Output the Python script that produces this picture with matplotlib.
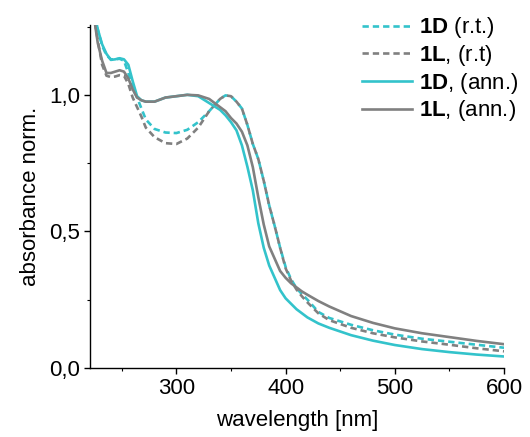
import matplotlib
matplotlib.use("Agg")
import matplotlib.pyplot as plt
from matplotlib.ticker import FixedLocator, FixedFormatter, MultipleLocator

plt.rcParams["font.family"] = ["Liberation Sans", "DejaVu Sans"]
plt.rcParams["mathtext.fontset"] = "custom"
plt.rcParams["mathtext.rm"] = "Liberation Sans"
plt.rcParams["mathtext.bf"] = "Liberation Sans:bold"

# wavelength grid [nm]
wavelength = [224, 228, 232, 236, 240, 244, 248, 252, 256, 260, 264, 268, 272, 280,
              290, 300, 310, 320, 330, 340, 345, 350, 355, 360, 365, 370, 375, 380,
              385, 390, 395, 400, 405, 410, 415, 420, 430, 440, 460, 480, 500, 525,
              550, 575, 600]

d_rt = [1.32, 1.24, 1.18, 1.145, 1.13, 1.13, 1.132, 1.125, 1.08, 1.025, 0.99, 0.95, 0.91, 0.875,
        0.862, 0.86, 0.872, 0.90, 0.94, 0.985, 0.998, 0.995, 0.975, 0.95, 0.89, 0.82, 0.765, 0.685,
        0.595, 0.52, 0.44, 0.37, 0.325, 0.292, 0.27, 0.25, 0.205, 0.183, 0.158, 0.138, 0.122, 0.107,
        0.096, 0.085, 0.074]

l_rt = [1.30, 1.20, 1.11, 1.07, 1.065, 1.067, 1.072, 1.07, 1.04, 0.99, 0.955, 0.92, 0.88, 0.845,
        0.823, 0.82, 0.84, 0.88, 0.94, 0.985, 0.998, 0.995, 0.975, 0.95, 0.89, 0.82, 0.765, 0.685,
        0.595, 0.52, 0.44, 0.365, 0.32, 0.287, 0.262, 0.24, 0.20, 0.175, 0.147, 0.127, 0.112, 0.097,
        0.085, 0.072, 0.061]

d_ann = [1.32, 1.24, 1.185, 1.15, 1.128, 1.13, 1.134, 1.13, 1.11, 1.05, 0.995, 0.98, 0.975, 0.975,
         0.99, 0.995, 1.0, 0.995, 0.97, 0.945, 0.925, 0.90, 0.87, 0.815, 0.737, 0.65, 0.53, 0.44,
         0.375, 0.33, 0.285, 0.255, 0.235, 0.215, 0.20, 0.185, 0.163, 0.147, 0.12, 0.10, 0.084, 0.069,
         0.058, 0.049, 0.042]

l_ann = [1.30, 1.19, 1.125, 1.08, 1.08, 1.085, 1.09, 1.085, 1.06, 1.02, 0.99, 0.98, 0.975, 0.975,
         0.99, 0.995, 1.0, 0.998, 0.985, 0.955, 0.94, 0.915, 0.895, 0.865, 0.815, 0.735, 0.625, 0.525,
         0.445, 0.40, 0.355, 0.33, 0.31, 0.295, 0.28, 0.268, 0.245, 0.225, 0.19, 0.165, 0.145, 0.127,
         0.113, 0.099, 0.087]

labels = [r"$\mathbf{1D}$ (r.t.)", r"$\mathbf{1L}$, (r.t)",
          r"$\mathbf{1D}$, (ann.)", r"$\mathbf{1L}$, (ann.)"]

x_ticks = [300, 400, 500, 600]
y_ticks = [0.0, 0.5, 1.0]
y_tick_labels = ["0,0", "0,5", "1,0"]

CYAN = "#33c3cb"
GREY = "#808080"
DASH = (0, (2.4, 1.5))

fig = plt.figure(figsize=(5.3, 4.37), dpi=100)
ax = fig.add_axes([0.170, 0.158, 0.781, 0.785])

ax.plot(wavelength, d_rt, color=CYAN, lw=1.9, linestyle=DASH, label=labels[0])
ax.plot(wavelength, l_rt, color=GREY, lw=1.9, linestyle=DASH, label=labels[1])
ax.plot(wavelength, d_ann, color=CYAN, lw=1.9, label=labels[2])
ax.plot(wavelength, l_ann, color=GREY, lw=1.9, label=labels[3])

ax.set_xlim(221, 600)
ax.set_ylim(0, 1.256)
ax.xaxis.set_major_locator(FixedLocator(x_ticks))
ax.xaxis.set_minor_locator(MultipleLocator(50))
ax.yaxis.set_major_locator(FixedLocator(y_ticks))
ax.yaxis.set_major_formatter(FixedFormatter(y_tick_labels))
ax.yaxis.set_minor_locator(MultipleLocator(0.25))

for side in ("top", "right"):
    ax.spines[side].set_visible(False)
for side in ("left", "bottom"):
    ax.spines[side].set_linewidth(1.0)

ax.tick_params(which="major", direction="out", length=4, width=1.0, labelsize=16, pad=3)
ax.tick_params(which="minor", direction="out", length=2.5, width=0.8)

ax.set_xlabel("wavelength [nm]", fontsize=16, labelpad=8)
ax.set_ylabel("absorbance norm.", fontsize=16, labelpad=6)

fig.legend(loc="upper left", bbox_to_anchor=(0.683, 0.965), frameon=False, fontsize=16,
           handlelength=2.25, handletextpad=0.3, labelspacing=0.12, borderpad=0,
           borderaxespad=0)

fig.savefig("out.png", dpi=100)
